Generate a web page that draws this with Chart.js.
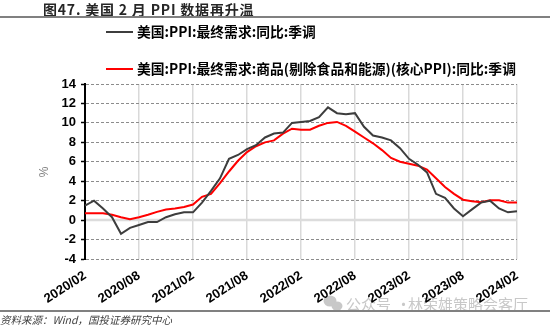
<!DOCTYPE html>
<html>
<head>
<meta charset="utf-8">
<script src="https://cdn.jsdelivr.net/npm/chart.js@4.4.1/dist/chart.umd.min.js"></script>
<style>
  html, body { margin: 0; padding: 0; background: #fff; }
  #wrap { width: 550px; height: 327px; }
</style>
</head>
<body>
<div id="wrap"><canvas id="ppiChart" width="550" height="327"></canvas></div>
<script>
// month labels on the x axis (one per month, label shown every 6)
const months = [
    '2020/02', '2020/03', '2020/04', '2020/05', '2020/06', '2020/07',
    '2020/08', '2020/09', '2020/10', '2020/11', '2020/12', '2021/01',
    '2021/02', '2021/03', '2021/04', '2021/05', '2021/06', '2021/07',
    '2021/08', '2021/09', '2021/10', '2021/11', '2021/12', '2022/01',
    '2022/02', '2022/03', '2022/04', '2022/05', '2022/06', '2022/07',
    '2022/08', '2022/09', '2022/10', '2022/11', '2022/12', '2023/01',
    '2023/02', '2023/03', '2023/04', '2023/05', '2023/06', '2023/07',
    '2023/08', '2023/09', '2023/10', '2023/11', '2023/12', '2024/01',
    '2024/02'
];

// 美国:PPI:最终需求:同比:季调
const ppiFinalDemand = [
    1.5, 2.0, 1.2, 0.3, -1.4, -0.8, -0.5, -0.2, -0.2, 0.3, 0.6, 0.8,
    0.8, 1.8, 3.0, 4.3, 6.3, 6.7, 7.3, 7.7, 8.5, 8.9, 9.0, 10.0,
    10.1, 10.2, 10.6, 11.6, 11.0, 10.9, 11.0, 9.6, 8.7, 8.5, 8.2, 7.4,
    6.3, 5.7, 4.9, 2.7, 2.3, 1.2, 0.4, 1.1, 1.8, 2.0, 1.2, 0.8,
    0.9
];

// 核心PPI (剔除食品和能源)
const ppiCore = [
    0.7, 0.7, 0.7, 0.55, 0.3, 0.1, 0.3, 0.55, 0.85, 1.1, 1.2, 1.35,
    1.6, 2.4, 2.7, 3.8, 5.0, 6.1, 7.0, 7.6, 8.0, 8.2, 8.9, 9.4,
    9.3, 9.3, 9.7, 10.0, 10.1, 9.7, 9.1, 8.5, 7.9, 7.2, 6.4, 6.0,
    5.8, 5.6, 5.2, 4.3, 3.4, 2.7, 2.1, 1.95, 1.85, 2.05, 2.05, 1.8,
    1.8
];

const yTicks = [-4, -2, 0, 2, 4, 6, 8, 10, 12, 14];

const titleText = '图47. 美国 2 月 PPI 数据再升温';
const sourceText = '资料来源：Wind，国投证券研究中心';

const cjk = '"Noto Sans CJK SC", "Liberation Sans", sans-serif';
const latin = '"Liberation Sans", Arial, sans-serif';

// title, legend, rules, footer, axis unit
const decorations = {
    id: 'decorations',
    beforeDraw(chart) {
        const ctx = chart.ctx;
        ctx.save();
        ctx.fillStyle = '#fff';
        ctx.fillRect(0, 0, chart.width, chart.height);

        // watermark sits under the axis labels
        ctx.fillStyle = '#c8c8c8';
        ctx.beginPath();
        ctx.ellipse(330, 301, 6.5, 5.5, 0, 0, Math.PI * 2);
        ctx.fill();
        ctx.beginPath();
        ctx.ellipse(337, 306, 5.5, 4.5, 0, 0, Math.PI * 2);
        ctx.fill();
        ctx.font = '15px ' + cjk;
        ctx.textBaseline = 'middle';
        ctx.fillText('公众号', 346, 304);
        ctx.fillText('·', 396, 304);
        ctx.fillText('林荣雄策略会客厅', 408, 304);
        ctx.restore();
    },
    beforeDatasetsDraw(chart) {
        const ctx = chart.ctx;
        const area = chart.chartArea;
        const y0 = chart.scales.y.getPixelForValue(0);
        ctx.save();
        ctx.strokeStyle = '#dcdcdc';
        ctx.lineWidth = 2.5;
        ctx.beginPath();
        ctx.moveTo(area.left + 1, y0);
        ctx.lineTo(area.right, y0);
        ctx.stroke();
        ctx.restore();
    },
    afterDraw(chart) {
        const ctx = chart.ctx;
        ctx.save();

        // title
        ctx.fillStyle = '#262626';
        ctx.font = 'bold 14px ' + cjk;
        ctx.textBaseline = 'middle';
        ctx.letterSpacing = '0.8px';
        ctx.fillText(titleText, 43, 10);
        ctx.letterSpacing = '0px';

        // top and bottom rules
        ctx.strokeStyle = '#808080';
        ctx.lineWidth = 2;
        ctx.beginPath();
        ctx.moveTo(0, 17);
        ctx.lineTo(550, 17);
        ctx.moveTo(0, 311);
        ctx.lineTo(550, 311);
        ctx.stroke();

        // legend
        const rows = [32, 69];
        chart.data.datasets.forEach((ds, i) => {
            ctx.strokeStyle = ds.borderColor;
            ctx.lineWidth = 2;
            ctx.beginPath();
            ctx.moveTo(106, rows[i]);
            ctx.lineTo(133, rows[i]);
            ctx.stroke();
            ctx.fillStyle = '#000';
            ctx.font = 'bold 13.8px ' + cjk;
            ctx.textBaseline = 'middle';
            ctx.fillText(ds.label, 137, rows[i]);
        });

        // y unit
        ctx.save();
        ctx.translate(45, 172);
        ctx.rotate(-Math.PI / 2);
        ctx.fillStyle = '#808080';
        ctx.font = '12px ' + latin;
        ctx.textAlign = 'center';
        ctx.textBaseline = 'middle';
        ctx.fillText('%', 0, 0);
        ctx.restore();

        // source
        ctx.fillStyle = '#404040';
        ctx.font = 'italic 10.5px ' + cjk;
        ctx.textBaseline = 'middle';
        ctx.fillText(sourceText, 0, 320);

        ctx.restore();
    }
};

const initPpiChart = () => {
    const ctx = document.getElementById('ppiChart').getContext('2d');
    new Chart(ctx, {
        type: 'line',
        data: {
            labels: months,
            datasets: [{
                label: '美国:PPI:最终需求:同比:季调',
                data: ppiFinalDemand,
                borderColor: '#3d3d3d',
                borderWidth: 2,
                pointRadius: 0,
                tension: 0,
                fill: false
            }, {
                label: '美国:PPI:最终需求:商品(剔除食品和能源)(核心PPI):同比:季调',
                data: ppiCore,
                borderColor: '#ff0000',
                borderWidth: 2,
                pointRadius: 0,
                tension: 0,
                fill: false
            }]
        },
        options: {
            responsive: false,
            animation: false,
            devicePixelRatio: 1,
            layout: {
                padding: { top: 84, right: 33, bottom: 0, left: 0 }
            },
            plugins: {
                legend: { display: false },
                title: { display: false },
                tooltip: { enabled: false }
            },
            scales: {
                x: {
                    afterFit: (scale) => { scale.height = 68; },
                    border: { display: false },
                    grid: {
                        drawTicks: false,
                        lineWidth: 1.5,
                        color: (c) => (c.index % 6 === 0 ? '#d9d9d9' : 'rgba(0,0,0,0)')
                    },
                    ticks: {
                        autoSkip: false,
                        maxRotation: 33,
                        minRotation: 33,
                        padding: 9,
                        color: '#000',
                        font: { family: latin, size: 13, weight: 'bold' },
                        callback: function (value, index) {
                            return index % 6 === 0 ? this.getLabelForValue(value) : '';
                        }
                    }
                },
                y: {
                    min: yTicks[0],
                    max: yTicks[yTicks.length - 1],
                    afterFit: (scale) => { scale.width = 85; },
                    afterBuildTicks: (scale) => {
                        scale.ticks = yTicks.map(v => ({ value: v }));
                    },
                    border: { display: true, color: '#000', width: 2, dash: [3, 2] },
                    grid: {
                        drawTicks: true,
                        tickLength: 4,
                        tickColor: '#000',
                        tickWidth: 1.5,
                        lineWidth: 1,
                        color: (c) => (c.tick && c.tick.value === 0 ? 'rgba(0,0,0,0)' : '#8c8c8c')
                    },
                    ticks: {
                        padding: 5,
                        color: '#000',
                        font: { family: latin, size: 13, weight: 'bold' }
                    }
                }
            }
        }
    });
};

document.addEventListener('DOMContentLoaded', () => {
    Chart.register(decorations);
    initPpiChart();
});
</script>
</body>
</html>
